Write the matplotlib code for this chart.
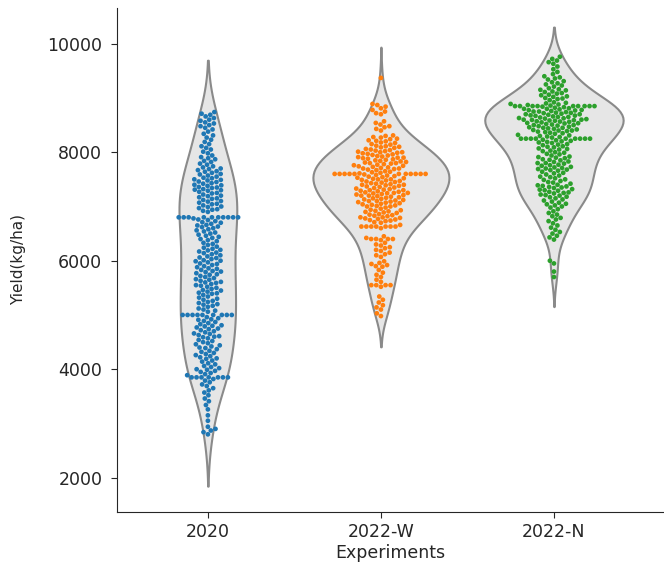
import numpy as np
import pandas as pd
import seaborn as sns
import matplotlib.pyplot as plt

experiments = ["2020", "2022-W", "2022-N"]
point_colors = ["#1f77b4", "#ff7f0e", "#2ca02c"]

# yield values (kg/ha)
yield_2020 = [
    8740, 8710, 8690, 8660, 8630, 8600, 8580, 8550, 8530, 8500,
    8480, 8450, 8420, 8380, 8340, 8310, 8270, 8230, 8190, 8150, 8110,
    8080, 8050, 8010, 7980, 7940, 7910,
    7890, 7870, 7840, 7820, 7790, 7770, 7740, 7720, 7700,
    7690, 7670, 7650, 7640, 7620, 7600, 7590, 7570, 7550, 7530, 7520, 7500,
    7490, 7480, 7460, 7450, 7430, 7420, 7400, 7390, 7380, 7360, 7350, 7340, 7320, 7310, 7300,
    7290, 7270, 7250, 7240, 7220, 7200, 7190, 7170, 7150, 7140, 7120, 7100,
    7090, 7070, 7050, 7040, 7020, 7000, 6990, 6970, 6950, 6940, 6920, 6900,
    6800, 6800, 6800, 6800, 6800, 6800, 6800, 6800, 6800, 6800,
    6780, 6760, 6750, 6730, 6710, 6700, 6680, 6660, 6650, 6630, 6620, 6600,
    6580, 6560, 6540, 6520, 6500, 6480, 6460, 6440, 6420, 6400,
    6380, 6360, 6330, 6310, 6290, 6260, 6240, 6220, 6200,
    6190, 6170, 6150, 6140, 6120, 6100, 6080, 6060, 6050, 6030, 6010, 6000,
    5990, 5970, 5950, 5940, 5920, 5900, 5880, 5860, 5850, 5830, 5810, 5800,
    5790, 5770, 5750, 5740, 5720, 5700, 5680, 5660, 5650, 5630, 5610, 5600,
    5590, 5570, 5550, 5540, 5520, 5500, 5480, 5460, 5450, 5430, 5410, 5400,
    5390, 5370, 5340, 5320, 5300, 5280, 5260, 5240, 5220, 5200,
    5190, 5170, 5150, 5120, 5100, 5080, 5060,
    5000, 5000, 5000, 5000, 5000, 5000, 5000, 5000, 5000,
    4960, 4940, 4920, 4910, 4890, 4870, 4850, 4830, 4810, 4800,
    4790, 4770, 4750, 4740, 4720, 4700, 4680, 4660, 4650, 4630, 4610, 4600,
    4590, 4570, 4540, 4520, 4500, 4480, 4460, 4440, 4420, 4400,
    4390, 4370, 4340, 4320, 4300, 4280, 4260, 4240, 4220, 4200,
    4190, 4160, 4140, 4110, 4090, 4060, 4040, 4020, 4000,
    3990, 3970, 3950, 3930, 3910, 3890,
    3850, 3850, 3850, 3850, 3850, 3850, 3850,
    3820, 3790, 3760, 3720, 3690, 3650, 3610,
    3570, 3520, 3460, 3410, 3340, 3260, 3150, 3050,
    2940, 2900, 2870, 2840, 2800,
]

yield_2022_w = [
    9370,
    8890, 8870, 8840, 8810, 8780, 8750, 8720, 8700,
    8570, 8540, 8510, 8480, 8460, 8430, 8400,
    8310, 8300, 8280, 8270, 8250, 8240, 8220, 8210, 8200,
    8180, 8170, 8150, 8140, 8120, 8110, 8100, 8090, 8080,
    8060, 8050, 8040, 8030, 8020, 8010, 8000, 8000, 7990, 7980, 7970,
    7960, 7950, 7940, 7930, 7920, 7910, 7900, 7900, 7890, 7880, 7870,
    7860, 7850, 7840, 7830, 7820, 7810, 7800, 7800, 7790, 7780, 7770,
    7760, 7750, 7740, 7730, 7720, 7710, 7700, 7700, 7690, 7680, 7670,
    7600, 7600, 7600, 7600, 7600, 7600, 7600, 7600, 7600, 7600, 7600,
    7650, 7640, 7630, 7620, 7610, 7590, 7580, 7570, 7560, 7550,
    7540, 7530, 7520, 7510, 7500, 7500, 7490, 7480, 7470, 7460, 7450, 7440,
    7430, 7420, 7410, 7400, 7400, 7390, 7380, 7370, 7360, 7350, 7340, 7330,
    7320, 7310, 7300, 7300, 7290, 7280, 7270, 7260, 7250, 7250, 7245, 7240,
    7230, 7220, 7210, 7200, 7200, 7190, 7180, 7170, 7160, 7150,
    7140, 7130, 7120, 7110, 7100, 7100, 7090, 7080, 7070, 7060,
    7050, 7040, 7030, 7020, 7010, 7000, 7000, 6980, 6960, 6940,
    6930, 6920, 6910, 6900, 6890, 6880, 6860, 6850, 6840, 6830, 6820,
    6800, 6800, 6790, 6780, 6770, 6760, 6750, 6740, 6730, 6710, 6700,
    6660, 6630, 6630, 6630, 6630, 6630, 6630, 6630, 6600,
    6450, 6420, 6400, 6400, 6400, 6400, 6380,
    6330, 6300, 6280, 6250, 6230, 6200, 6180, 6150, 6120, 6100, 6070,
    5990, 5960, 5940, 5920, 5900, 5890,
    5830, 5780, 5740, 5700, 5650, 5610,
    5550, 5550, 5550, 5550, 5520,
    5340, 5280, 5230, 5180, 5140, 5100,
    5030, 4980,
]

yield_2022_n = [
    9760, 9720, 9690, 9660,
    9630, 9580, 9530, 9480, 9440, 9400,
    9380, 9360, 9340, 9310, 9290, 9270, 9250, 9230, 9210, 9180, 9160,
    9150, 9140, 9120, 9110, 9090, 9080, 9060, 9050, 9030, 9020, 9000, 8990, 8980, 8960,
    8850, 8850, 8850, 8850, 8850, 8850, 8850, 8850, 8850,
    8920, 8910, 8900, 8890, 8880, 8870, 8860, 8840, 8830, 8820,
    8810, 8800, 8800, 8790, 8780, 8775, 8770, 8760, 8750, 8750, 8740, 8730,
    8725, 8720, 8710, 8700, 8700, 8690, 8680, 8675, 8670, 8660, 8650, 8650,
    8640, 8630, 8625, 8620, 8610, 8600, 8600, 8595, 8590, 8585, 8580,
    8570, 8565, 8560, 8550, 8540, 8535, 8530, 8520, 8510, 8500, 8500, 8490,
    8480, 8470, 8460, 8450, 8450, 8440, 8430, 8420, 8410, 8400, 8400, 8390,
    8380, 8370, 8360, 8350, 8340, 8320,
    8250, 8250, 8250, 8250, 8250, 8250, 8250, 8250, 8250,
    8310, 8300, 8290, 8280, 8270, 8230, 8220, 8210,
    8200, 8190, 8180, 8170, 8150, 8140, 8130, 8110, 8100, 8090, 8070,
    8060, 8050, 8030, 8020, 8000, 7990, 7970, 7960, 7940, 7920,
    7910, 7900, 7890, 7870, 7860, 7850, 7830, 7820, 7800, 7800, 7790,
    7770, 7760, 7750, 7730, 7720, 7710, 7700, 7690, 7680, 7670,
    7660, 7640, 7620, 7610, 7590, 7570, 7550, 7540, 7520, 7500,
    7490, 7470, 7450, 7440, 7420, 7400, 7390, 7380, 7370, 7360,
    7350, 7340, 7320, 7310, 7300, 7290, 7270, 7260, 7250, 7240, 7220, 7210, 7200, 7180,
    7170, 7150, 7130, 7110, 7090, 7070, 7050, 7040, 7020, 7000,
    6980, 6950, 6910, 6880, 6850, 6820, 6790, 6760,
    6730, 6690, 6650, 6610, 6570, 6530,
    6500, 6460, 6430, 6390,
    6000, 5950, 5800, 5700,
]

df = pd.DataFrame({
    "Experiments": (["2020"] * len(yield_2020) + ["2022-W"] * len(yield_2022_w)
                    + ["2022-N"] * len(yield_2022_n)),
    "Yield": yield_2020 + yield_2022_w + yield_2022_n,
})

sns.set_style("ticks")
fig = plt.figure(figsize=(6.64, 5.65), dpi=100)
ax = fig.add_axes([0.176, 0.094, 0.824, 0.892])

sns.violinplot(data=df, x="Experiments", y="Yield", order=experiments,
               inner=None, color="#e6e6e6", linecolor="#8a8a8a",
               linewidth=1.5, ax=ax)
sns.swarmplot(data=df, x="Experiments", y="Yield", order=experiments,
              hue="Experiments", hue_order=experiments, palette=point_colors,
              size=3.4, legend=False, ax=ax)

ax.set_xlim(-0.526, 2.636)
ax.set_ylim(1370, 10660)
ax.set_yticks([2000, 4000, 6000, 8000, 10000])
ax.set_xlabel("Experiments", fontsize=12.5, color="#262626", labelpad=2)
ax.set_ylabel("Yield(kg/ha)", fontsize=11, color="#262626", labelpad=15)
ax.tick_params(labelsize=12.5, colors="#262626", length=4.5)
ax.tick_params(axis="y", pad=6)
sns.despine(ax=ax)

fig.savefig("out.png", dpi=100)
